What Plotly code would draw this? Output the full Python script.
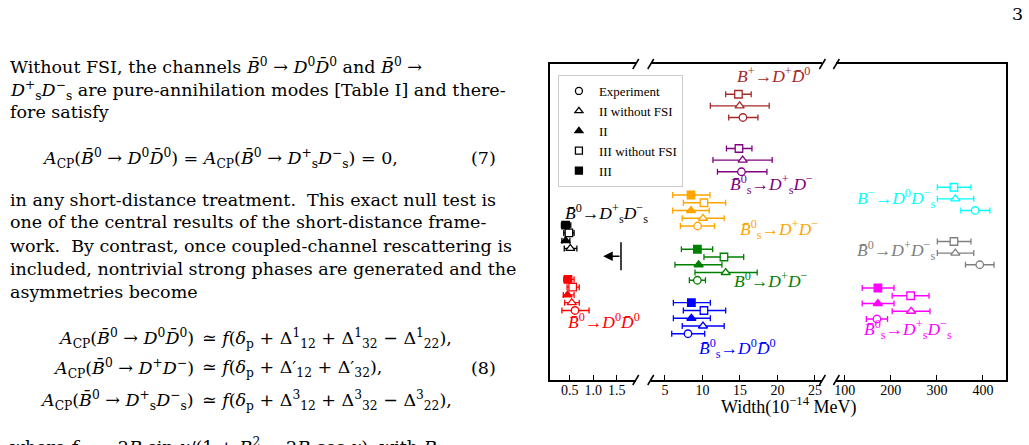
import plotly.graph_objects as go
from plotly.subplots import make_subplots

# ---------------- data (widths in 10^-14 MeV) ----------------
channels = ["B+ -> D+ D0bar", "Bs0bar -> Ds+ D-", "Bs0bar -> D+ D-", "B0bar -> Ds+ Ds-",
            "B0bar -> D+ D-", "B0bar -> D0 D0bar", "Bs0bar -> D0 D0bar", "B- -> D0 Ds-",
            "B0bar -> D+ Ds-", "Bs0bar -> Ds+ Ds-"]

labels = ["<i>B</i><sup>+</sup>→<i>D</i><sup>+</sup><i>D̄</i><sup>0</sup>",
          "<i>B̄</i><sup>0</sup><sub>s</sub>→<i>D</i><sup>+</sup><sub>s</sub><i>D</i><sup>−</sup>",
          "<i>B̄</i><sup>0</sup><sub>s</sub>→<i>D</i><sup>+</sup><i>D</i><sup>−</sup>",
          "<i>B̄</i><sup>0</sup>→<i>D</i><sup>+</sup><sub>s</sub><i>D</i><sup>−</sup><sub>s</sub>",
          "<i>B</i><sup>0</sup>→<i>D</i><sup>+</sup><i>D</i><sup>−</sup>",
          "<i>B̄</i><sup>0</sup>→<i>D</i><sup>0</sup><i>D̄</i><sup>0</sup>",
          "<i>B̄</i><sup>0</sup><sub>s</sub>→<i>D</i><sup>0</sup><i>D̄</i><sup>0</sup>",
          "<i>B</i><sup>−</sup>→<i>D</i><sup>0</sup><i>D</i><sup>−</sup><sub>s</sub>",
          "<i>B̄</i><sup>0</sup>→<i>D</i><sup>+</sup><i>D</i><sup>−</sup><sub>s</sub>",
          "<i>B̄</i><sup>0</sup><sub>s</sub>→<i>D</i><sup>+</sup><sub>s</sub><i>D</i><sup>−</sup><sub>s</sub>"]

# experiment
exp_val = [15.4, 15.2, 9.36, None, 9.32, 0.61, 8.07, 383, 393, 170]
exp_lo = [13.5, 12.0, 7.05, None, 8.25, 0.33, 5.9, 352, 362, 147]
exp_hi = [17.4, 18.6, 11.6, None, 10.4, 0.91, 10.3, 415, 424, 193]
exp_upper_limit = 1.59   # B0bar -> Ds+ Ds- (upper limit only)

# II without FSI
ii0_val = [14.96, 15.36, 10.07, 0.51, 13.1, 0.54, 10.07, 340, 340, 244]
ii0_lo = [11.05, 11.4, 7.3, 0.38, 9.0, 0.39, 7.3, 301, 301, 203]
ii0_hi = [18.9, 19.3, 12.9, 0.65, 17.3, 0.70, 12.9, 380, 380, 285]

# II
ii_val = [None, None, 8.47, 0.41, 9.49, 0.45, 8.52, None, None, 172]
ii_lo = [None, None, 6.03, 0.33, 6.33, 0.36, 6.12, None, None, 138]
ii_hi = [None, None, 10.9, 0.50, 12.6, 0.59, 11.05, None, None, 207]

# III without FSI
iii0_val = [14.8, 14.87, 10.2, 0.48, 12.87, 0.56, 10.2, 337, 337, 243]
iii0_lo = [13.1, 13.2, 7.45, 0.37, 10.2, 0.44, 7.45, 301, 301, 203]
iii0_hi = [16.5, 16.6, 13.1, 0.59, 15.5, 0.70, 13.1, 374, 374, 283]

# III
iii_val = [None, None, 8.47, 0.41, 9.32, 0.46, 8.52, None, None, 172]
iii_lo = [None, None, 6.03, 0.32, 7.19, 0.37, 6.12, None, None, 138]
iii_hi = [None, None, 11.0, 0.52, 11.36, 0.59, 11.05, None, None, 207]

# ---------------- layout / style ----------------
colors = ["#A52A2A", "#800080", "#FFA500", "black", "green", "red", "blue",
          "cyan", "gray", "magenta"]
panel = [2, 2, 2, 1, 2, 1, 2, 3, 3, 3]
top_row = [3.9, 10.9, 16.9, 20.8, 23.9, 27.8, 30.8, 15.9, 22.9, 28.9]
label_pos = [(19.5, 1.4), (19.2, 15.6), (20.2, 21.4), (1.29, 19.3), (19.2, 27.9),
             (1.22, 33.2), (14.7, 36.7), (212, 17.3), (212, 24.0), (238, 34.3)]

W, H = 1029, 445
SERIF = "Liberation Serif"

methods = [  # name, values, lo, hi, symbol, filled
    ("III", iii_val, iii_lo, iii_hi, "square", True),
    ("III without FSI", iii0_val, iii0_lo, iii0_hi, "square", False),
    ("II", ii_val, ii_lo, ii_hi, "triangle-up", True),
    ("II without FSI", ii0_val, ii0_lo, ii0_hi, "triangle-up", False),
    ("Experiment", exp_val, exp_lo, exp_hi, "circle", False),
]

fig = make_subplots(rows=1, cols=3, shared_yaxes=True)

for c in range(len(channels)):
    col = colors[c]
    # groups without FSI results use three rows with wider spacing
    has_fsi = ii_val[c] is not None
    step = 1.0 if has_fsi else 1.5
    row = top_row[c]
    for name, val, lo, hi, sym, filled in methods:
        if name in ("III", "II") and not has_fsi:
            continue
        v = val[c]
        if v is not None:
            fig.add_trace(go.Scatter(
                x=[v], y=[row], mode="markers", showlegend=False,
                marker=dict(symbol=sym, size=7.5 if sym != "triangle-up" else 8,
                            color=col if filled else "white",
                            line=dict(color=col, width=1.3)),
                error_x=dict(type="data", symmetric=False, array=[hi[c] - v],
                             arrayminus=[v - lo[c]], color=col, thickness=1.3, width=3),
            ), row=1, col=panel[c])
        elif name == "Experiment":
            # upper limit: bar + arrow pointing left
            fig.add_trace(go.Scatter(
                x=[exp_upper_limit], y=[row], mode="markers", showlegend=False,
                marker=dict(symbol="line-ns", size=20, line=dict(color=col, width=1.5))),
                row=1, col=panel[c])
            fig.add_annotation(x=exp_upper_limit - 0.38, y=row, ax=exp_upper_limit, ay=row,
                               xref="x", yref="y", axref="x", ayref="y", text="",
                               showarrow=True, arrowhead=2, arrowsize=1.2, arrowwidth=1.6,
                               arrowcolor=col)
        row += step
    lx, ly = label_pos[c]
    xr = "x" if panel[c] == 1 else "x%d" % panel[c]
    fig.add_annotation(x=lx, y=ly, xref=xr, yref="y", text=labels[c], showarrow=False,
                       xanchor="center", yanchor="middle",
                       font=dict(family=SERIF, size=17.5, color=col))

# legend entries (black)
for name, sym, filled in [("Experiment", "circle", False), ("II without FSI", "triangle-up", False),
                          ("II", "triangle-up", True), ("III without FSI", "square", False),
                          ("III", "square", True)]:
    fig.add_trace(go.Scatter(x=[None], y=[None], mode="markers", name=name,
                             marker=dict(symbol=sym, size=7, color="black" if filled else "white",
                                         line=dict(color="black", width=1.3))), row=1, col=1)

# panel domains (pixel positions of the broken axis)
doms = [(549, 635), (650, 822), (836, 1006)]
ranges = [[0.075, 1.905], [3.1, 26.0], [82, 450]]
ticks = [[0.5, 1.0, 1.5], [5, 10, 15, 20, 25], [100, 200, 300, 400]]
ticktext = [["0.5", "1.0", "1.5"], None, None]
ydom = [1 - 380 / H, 1 - 64 / H]

for i in range(3):
    key = "xaxis" if i == 0 else "xaxis%d" % (i + 1)
    fig.layout[key].update(
        domain=[doms[i][0] / W, doms[i][1] / W], range=ranges[i], tickvals=ticks[i],
        ticktext=ticktext[i], showline=True, mirror=True, linecolor="black", linewidth=1.6,
        ticks="inside", ticklen=5, tickwidth=1, tickcolor="black", showgrid=False,
        ticklabelstandoff=-4,
        zeroline=False, tickfont=dict(family=SERIF, size=14, color="black"))
    ykey = "yaxis" if i == 0 else "yaxis%d" % (i + 1)
    fig.layout[ykey].update(domain=ydom, range=[40.77, 0], showgrid=False, zeroline=False,
                            showticklabels=False, ticks="", showline=(i != 1),
                            linecolor="black", linewidth=1.6)
fig.layout.yaxis3.side = "right"

# break marks
shapes = []
for xp in [635, 650, 822, 836]:
    for yp in [64, 380]:
        shapes.append(dict(type="line", xref="paper", yref="paper",
                           x0=(xp - 3) / W, y0=1 - (yp + 5) / H,
                           x1=(xp + 3) / W, y1=1 - (yp - 5) / H,
                           line=dict(color="black", width=1.5)))


def page_text(xp, yp, text, xanchor="left", font=None):
    fig.add_annotation(x=xp / W, y=1 - yp / H, xref="paper", yref="paper", showarrow=False,
                       xanchor=xanchor, yanchor="middle", text=text, font=font)


# axis title
page_text(788, 406, "Width(10<sup>−14</sup> MeV)", "center",
          dict(family=SERIF, size=18, color="black"))

# ---------------- surrounding page text ----------------
B0 = "<i>B̄</i><sup>0</sup>"
D0D0 = "<i>D</i><sup>0</sup><i>D̄</i><sup>0</sup>"
DsDs = "<i>D</i><sup>+</sup><sub>s</sub><i>D</i><sup>−</sup><sub>s</sub>"
ACP = "<i>A</i><sub>CP</sub>"
body = [
    (66, "Without FSI, the channels " + B0 + " → " + D0D0 + " and " + B0 + " →"),
    (90, DsDs + " are pure-annihilation modes [Table I] and there-"),
    (112, "fore satisfy"),
    (200, "in any short-distance treatment.  This exact null test is"),
    (222, "one of the central results of the short-distance frame-"),
    (246, "work.  By contrast, once coupled-channel rescattering is"),
    (269, "included, nontrivial strong phases are generated and the"),
    (292, "asymmetries become"),
    (446, "where <i>f</i> = −2<i>R</i> sin <i>γ</i>/(1 + <i>R</i><sup>2</sup> − 2<i>R</i> cos <i>γ</i>), with <i>R</i> ="),
]
font_txt = dict(family="DejaVu Serif", size=17.5, color="black")
for yp, t in body:
    page_text(6, yp, t, "left", font_txt)

page_text(38, 158, ACP + "(" + B0 + " → " + D0D0 + ") = " + ACP + "(" + B0 + " → " + DsDs + ") = 0,",
          "left", font_txt)
page_text(497, 158, "(7)", "right", font_txt)

eq8 = [
    (338, ACP + "(" + B0 + " → " + D0D0 + ")",
     "≃ <i>f</i>(<i>δ</i><sub>p</sub> + Δ<sup>1</sup><sub>12</sub> + Δ<sup>1</sup><sub>32</sub> − Δ<sup>1</sup><sub>22</sub>),"),
    (368, ACP + "(" + B0 + " → <i>D</i><sup>+</sup><i>D</i><sup>−</sup>)",
     "≃ <i>f</i>(<i>δ</i><sub>p</sub> + Δ′<sub>12</sub> + Δ′<sub>32</sub>),"),
    (400, ACP + "(" + B0 + " → " + DsDs + ")",
     "≃ <i>f</i>(<i>δ</i><sub>p</sub> + Δ<sup>3</sup><sub>12</sub> + Δ<sup>3</sup><sub>32</sub> − Δ<sup>3</sup><sub>22</sub>),"),
]
for yp, lhs, rhs in eq8:
    page_text(194, yp, lhs, "right", font_txt)
    page_text(198, yp, rhs, "left", font_txt)
page_text(497, 368, "(8)", "right", font_txt)

# page number
page_text(1017, 14, "3", "center", font_txt)

fig.update_layout(
    width=W, height=H, margin=dict(l=0, r=0, t=0, b=0),
    paper_bgcolor="white", plot_bgcolor="white", shapes=shapes,
    showlegend=True,
    legend=dict(x=557 / W, y=1 - 75 / H, xanchor="left", yanchor="top",
                bgcolor="white", bordercolor="#cccccc", borderwidth=1,
                font=dict(family=SERIF, size=13, color="black"), tracegroupgap=0),
)

fig.write_html("out.html", config={"displayModeBar": False},
               post_script="document.body.style.margin = '0';")
